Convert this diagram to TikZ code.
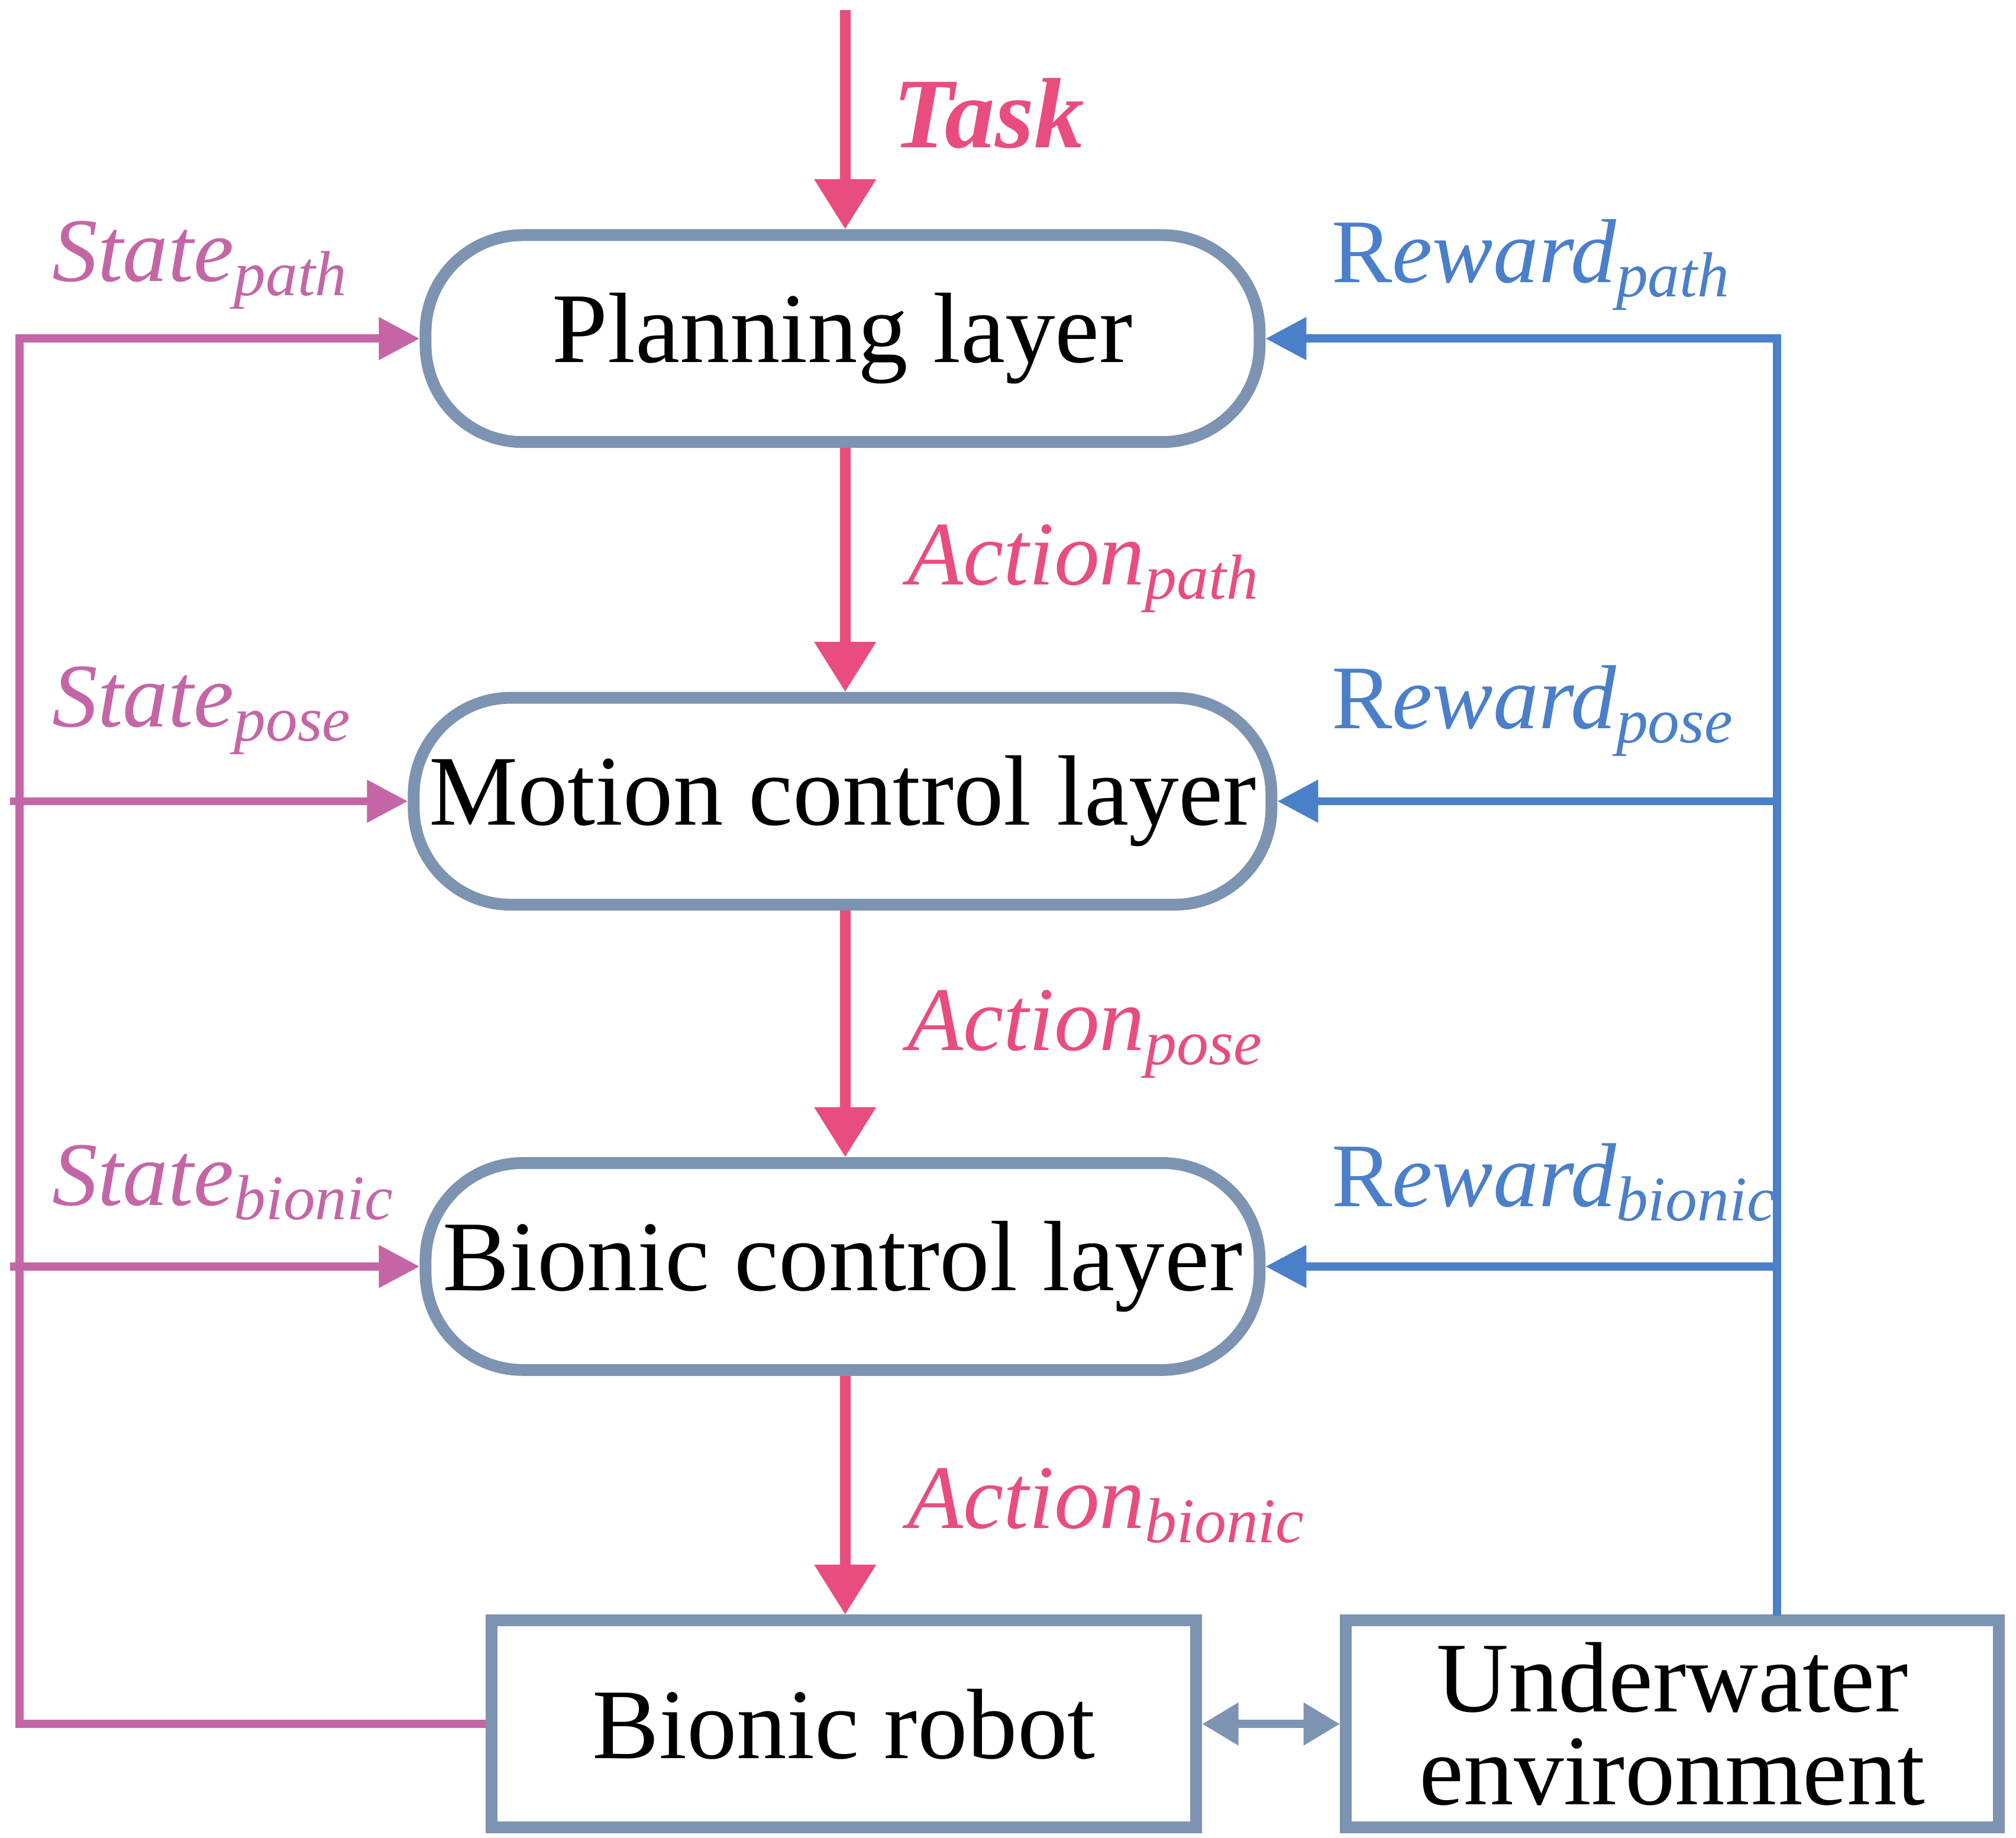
\documentclass[tikz,border=0pt]{standalone}
\usepackage{fontspec}
\setmainfont{Liberation Serif}
\usetikzlibrary{arrows.meta}
\definecolor{pk}{HTML}{E84D7E}
\definecolor{st}{HTML}{C466A6}
\definecolor{bl}{HTML}{4A7FCA}
\definecolor{gb}{HTML}{7D93B2}
\begin{document}
\begin{tikzpicture}[x=0.01cm,y=-0.01cm,
 lay/.style={draw=gb,line width=2.6pt,rounded corners=0.75cm,minimum width=6.45cm,minimum height=1.6cm,font=\fontsize{22}{24}\selectfont},
 box/.style={draw=gb,line width=2.6pt,minimum height=1.6cm,align=center,font=\fontsize{22}{24}\selectfont\linespread{0.85}\selectfont},
 act/.style={draw=pk,line width=2.4pt,-{Triangle[length=11pt,width=13pt]}},
 sl/.style={draw=st,line width=1.8pt,-{Triangle[length=9pt,width=9pt]}},
 bll/.style={draw=bl,line width=1.8pt,-{Triangle[length=9pt,width=9pt]}},
 lb/.style={anchor=west,font=\fontsize{20}{22}\selectfont\itshape}]
\useasboundingbox (0,0) rectangle (1560,1422);
\node[lay] (p) at (652,262) {Planning layer};
\node[lay] (m) at (652,620) {Motion control layer};
\node[lay] (b) at (652,980) {Bionic control layer};
\node[box,minimum width=5.45cm] (r) at (653,1334) {Bionic robot};
\node[box,minimum width=5.05cm] (e) at (1294,1334) {Underwater\\environment};
\coordinate (t0) at (654,8);
\draw[act] (t0) -- (p.north -| t0);
\node[lay,text=pk,font=\fontsize{22}{24}\selectfont\bfseries\itshape,draw=none] at (765,88) {Task};
\draw[act] (p.south -| t0) -- (m.north -| t0);
\draw[act] (m.south -| t0) -- (b.north -| t0);
\draw[act] (b.south -| t0) -- (r.north -| t0);
\node[lb,text=pk] at (690,440) {Action\textsubscript{path}};
\node[lb,text=pk] at (690,800) {Action\textsubscript{pose}};
\node[lb,text=pk] at (690,1165) {Action\textsubscript{bionic}};
% state
\coordinate (s1) at (15,1334); \coordinate (s2) at (15,262);
\draw[sl] (r.west) -- (s1) -- (s2) -- (p.west);
\coordinate (s3) at (8,620); \coordinate (s4) at (8,980);
\draw[sl] (s3) -- (m.west);
\draw[sl] (s4) -- (b.west);
\node[lb,text=st] at (28,205) {State\textsubscript{path}};
\node[lb,text=st] at (28,550) {State\textsubscript{pose}};
\node[lb,text=st] at (28,915) {State\textsubscript{bionic}};
% reward
\coordinate (w1) at (1375,1250); \coordinate (w2) at (1375,262);
\draw[bll] (w1) -- (w2) -- (p.east);
\coordinate (w3) at (1375,620); \coordinate (w4) at (1375,980);
\draw[bll] (w3) -- (m.east);
\draw[bll] (w4) -- (b.east);
\node[lb,text=bl] at (1018,205) {\textup{R}eward\textsubscript{path}};
\node[lb,text=bl] at (1018,550) {\textup{R}eward\textsubscript{pose}};
\node[lb,text=bl] at (1018,915) {\textup{R}eward\textsubscript{bionic}};
\draw[gb,line width=1.8pt,{Triangle[length=8pt,width=9pt]}-{Triangle[length=8pt,width=9pt]}] (r.east) -- (e.west);
\end{tikzpicture}
\end{document}
